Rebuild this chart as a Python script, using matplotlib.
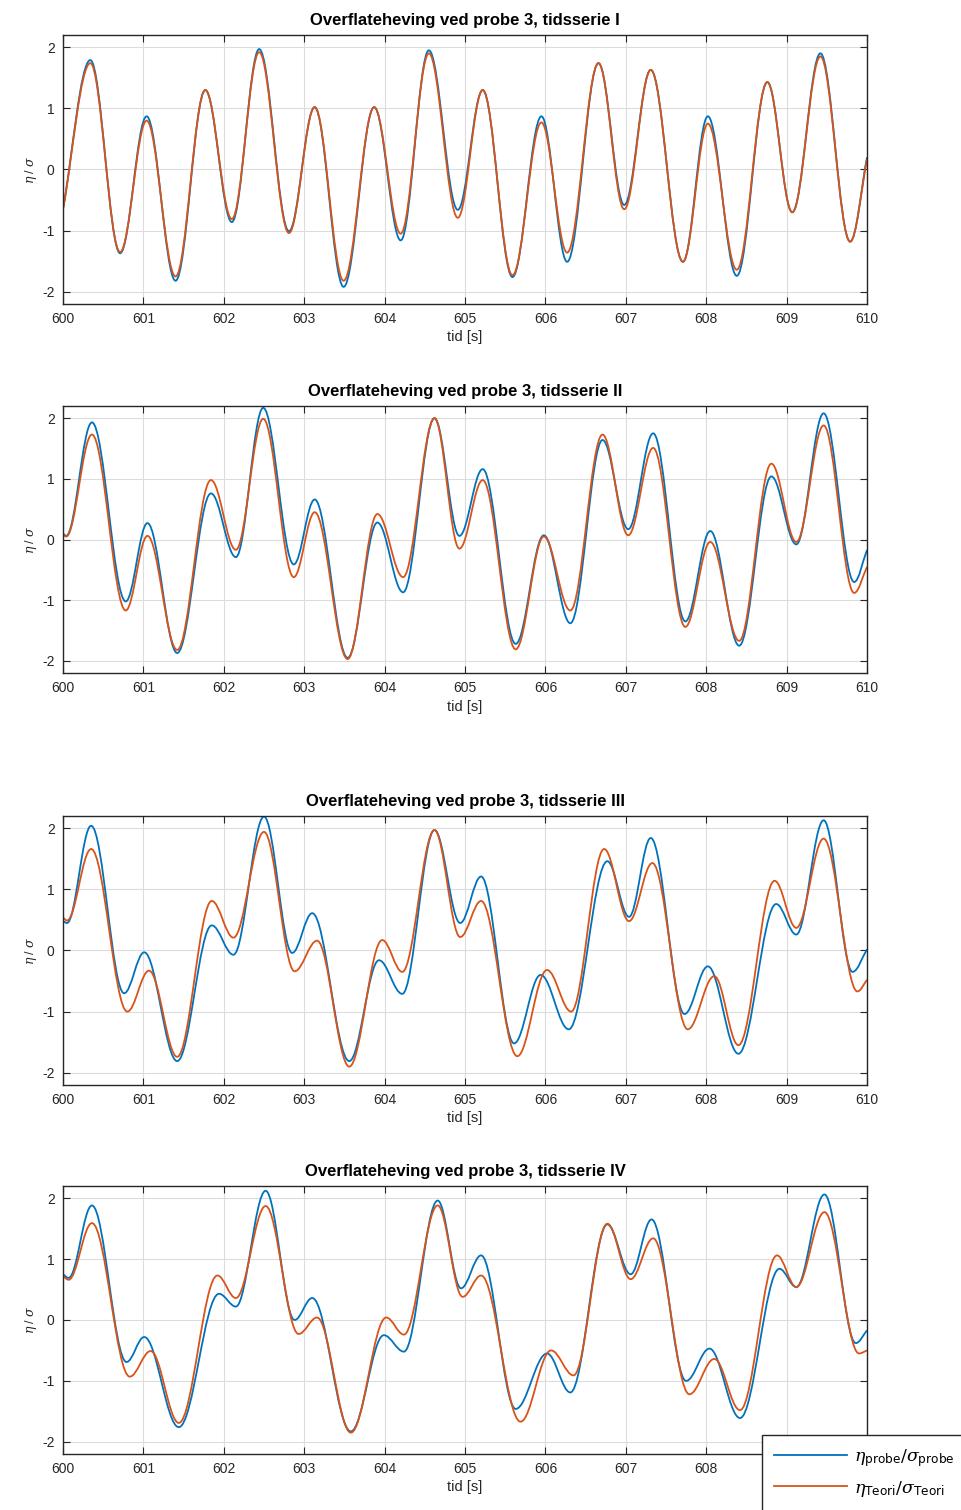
import matplotlib
matplotlib.use("Agg")
import matplotlib.pyplot as plt
from matplotlib.path import Path
from matplotlib.patches import PathPatch
from matplotlib.lines import Line2D

plt.rcParams["font.family"] = ["Liberation Sans", "DejaVu Sans"]
plt.rcParams["mathtext.fontset"] = "dejavuserif"
plt.rcParams["axes.unicode_minus"] = False

# extrema (time, value), plus the end points
t_probe_1 = [600.00, 600.34, 600.71, 601.04, 601.40, 601.77, 602.10, 602.44, 602.81, 603.13,
             603.49, 603.87, 604.20, 604.55, 604.91, 605.22, 605.59, 605.95, 606.27, 606.66,
             606.98, 607.31, 607.71, 608.02, 608.38, 608.76, 609.07, 609.42, 609.79, 610.00]
y_probe_1 = [-0.65, 1.79, -1.37, 0.87, -1.82, 1.30, -0.86, 1.97, -1.01, 1.02,
             -1.92, 1.02, -1.16, 1.95, -0.66, 1.30, -1.76, 0.87, -1.51, 1.74,
             -0.58, 1.63, -1.51, 0.87, -1.74, 1.43, -0.70, 1.90, -1.18, 0.20]
t_teori_1 = t_probe_1
y_teori_1 = [-0.65, 1.74, -1.35, 0.80, -1.75, 1.30, -0.81, 1.92, -1.04, 1.02,
             -1.82, 1.02, -1.05, 1.90, -0.79, 1.30, -1.73, 0.77, -1.36, 1.74,
             -0.65, 1.63, -1.51, 0.75, -1.64, 1.43, -0.70, 1.85, -1.18, 0.17]

t_probe_2 = [600.00, 600.04, 600.36, 600.78, 601.05, 601.42, 601.84, 602.15, 602.49, 602.87,
             603.13, 603.54, 603.91, 604.23, 604.62, 604.93, 605.22, 605.63, 605.98, 606.31,
             606.71, 607.03, 607.34, 607.74, 608.05, 608.41, 608.81, 609.12, 609.46, 609.84, 610.00]
y_probe_2 = [0.10, 0.06, 1.93, -1.02, 0.27, -1.87, 0.76, -0.29, 2.17, -0.41,
             0.66, -1.95, 0.28, -0.87, 2.00, 0.06, 1.16, -1.72, 0.07, -1.38,
             1.64, 0.17, 1.75, -1.35, 0.14, -1.75, 1.04, -0.08, 2.08, -0.70, -0.17]
t_teori_2 = t_probe_2
y_teori_2 = [0.08, 0.05, 1.73, -1.17, 0.06, -1.82, 0.98, -0.17, 1.99, -0.62,
             0.45, -1.97, 0.42, -0.62, 2.00, -0.15, 0.98, -1.81, 0.05, -1.17,
             1.73, 0.07, 1.51, -1.44, -0.04, -1.67, 1.25, -0.04, 1.88, -0.88, -0.45]

t_probe_3 = [600.00, 600.05, 600.35, 600.76, 601.01, 601.42, 601.85, 602.12, 602.50, 602.85,
             603.10, 603.56, 603.93, 604.22, 604.62, 604.94, 605.20, 605.61, 605.94, 606.29,
             606.77, 607.04, 607.31, 607.73, 608.02, 608.40, 608.87, 609.12, 609.46, 609.82, 610.00]
y_probe_3 = [0.48, 0.45, 2.04, -0.70, -0.03, -1.81, 0.41, -0.07, 2.19, -0.04,
             0.61, -1.81, -0.16, -0.71, 1.97, 0.45, 1.21, -1.52, -0.40, -1.29,
             1.46, 0.55, 1.84, -1.04, -0.26, -1.69, 0.76, 0.26, 2.13, -0.35, 0.02]
t_teori_3 = [600.00, 600.05, 600.35, 600.80, 601.07, 601.42, 601.85, 602.12, 602.50, 602.88,
             603.16, 603.56, 603.97, 604.22, 604.62, 604.94, 605.20, 605.65, 606.02, 606.32,
             606.73, 607.04, 607.33, 607.77, 608.10, 608.40, 608.85, 609.12, 609.46, 609.88, 610.00]
y_teori_3 = [0.54, 0.49, 1.66, -1.00, -0.33, -1.74, 0.81, 0.21, 1.94, -0.34,
             0.16, -1.90, 0.17, -0.35, 1.97, 0.22, 0.81, -1.73, -0.32, -1.00,
             1.66, 0.48, 1.43, -1.29, -0.42, -1.55, 1.14, 0.37, 1.83, -0.67, -0.48]

t_probe_4 = [600.00, 600.07, 600.36, 600.79, 601.01, 601.44, 601.94, 602.15, 602.52, 602.88,
             603.10, 603.58, 603.99, 604.24, 604.66, 604.95, 605.20, 605.63, 606.02, 606.31,
             606.77, 607.06, 607.32, 607.75, 608.04, 608.42, 608.91, 609.12, 609.47, 609.86, 610.00]
y_probe_4 = [0.75, 0.69, 1.88, -0.69, -0.28, -1.76, 0.43, 0.22, 2.12, 0.00,
             0.36, -1.83, -0.25, -0.52, 1.96, 0.52, 1.06, -1.46, -0.55, -1.19,
             1.57, 0.75, 1.65, -1.00, -0.47, -1.61, 0.84, 0.54, 2.06, -0.38, -0.17]
t_teori_4 = [600.00, 600.07, 600.36, 600.83, 601.09, 601.44, 601.92, 602.15, 602.52, 602.93,
             603.16, 603.58, 604.02, 604.24, 604.66, 604.97, 605.20, 605.69, 606.07, 606.35,
             606.77, 607.06, 607.34, 607.79, 608.10, 608.42, 608.88, 609.12, 609.47, 609.90, 610.00]
y_teori_4 = [0.72, 0.66, 1.59, -0.93, -0.51, -1.69, 0.73, 0.36, 1.87, -0.23,
             0.04, -1.85, 0.04, -0.24, 1.88, 0.38, 0.73, -1.67, -0.50, -0.91,
             1.58, 0.67, 1.34, -1.22, -0.64, -1.48, 1.06, 0.54, 1.77, -0.55, -0.50]

series_names = ["I", "II", "III", "IV"]
probe = [(t_probe_1, y_probe_1), (t_probe_2, y_probe_2), (t_probe_3, y_probe_3), (t_probe_4, y_probe_4)]
teori = [(t_teori_1, y_teori_1), (t_teori_2, y_teori_2), (t_teori_3, y_teori_3), (t_teori_4, y_teori_4)]
x_ticks = list(range(600, 611))
y_ticks = [-2, -1, 0, 1, 2]

blue = "#0072BD"
orange = "#D95319"
dark = "#262626"


def wave_path(t, y, k=0.364):
    # smooth curve through the extrema, flat tangent at each extremum
    verts = [(t[0], y[0])]
    codes = [Path.MOVETO]
    n = len(t)
    for i in range(n - 1):
        d = t[i + 1] - t[i]
        if i == 0:
            c1 = (t[i] + d / 3, y[i] + (y[i + 1] - y[i]) / 3)
        else:
            c1 = (t[i] + k * d, y[i])
        if i == n - 2:
            c2 = (t[i + 1] - d / 3, y[i + 1] - (y[i + 1] - y[i]) / 3)
        else:
            c2 = (t[i + 1] - k * d, y[i + 1])
        verts += [c1, c2, (t[i + 1], y[i + 1])]
        codes += [Path.CURVE4] * 3
    return Path(verts, codes)


fig = plt.figure(figsize=(9.62, 15.1), dpi=100)
boxes = [(0.0655, 0.7987, 0.8358, 0.1781),
         (0.0655, 0.5543, 0.8358, 0.1768),
         (0.0655, 0.2815, 0.8358, 0.1781),
         (0.0655, 0.0371, 0.8358, 0.1775)]

for i in range(4):
    ax = fig.add_axes(boxes[i])
    for (t, y), c in [(probe[i], blue), (teori[i], orange)]:
        ax.add_patch(PathPatch(wave_path(t, y), fill=False, edgecolor=c, lw=1.3))
    ax.set_xlim(600, 610)
    ax.set_ylim(-2.2, 2.2)
    ax.set_xticks(x_ticks)
    ax.set_yticks(y_ticks)
    ax.grid(True, color="#dcdcdc", lw=0.8)
    ax.set_axisbelow(True)
    ax.tick_params(direction="in", top=True, right=True, length=5, width=0.8,
                   colors=dark, labelsize=10, pad=6)
    for s in ax.spines.values():
        s.set_color(dark)
        s.set_linewidth(1.0)
    ax.set_title("Overflateheving ved probe 3, tidsserie " + series_names[i],
                 fontsize=12, fontweight="bold", pad=7)
    ax.set_xlabel("tid [s]", fontsize=10.5, color=dark, labelpad=3)
    ax.set_ylabel(r"$\eta$ / $\sigma$", fontsize=9, color=dark, labelpad=2)

handles = [Line2D([], [], color=blue, lw=1.3), Line2D([], [], color=orange, lw=1.3)]
labels = [r"$\eta_{\mathsf{probe}}/\sigma_{\mathsf{probe}}$",
          r"$\eta_{\mathsf{Teori}}/\sigma_{\mathsf{Teori}}$"]
leg = fig.legend(handles, labels, loc="upper left", bbox_to_anchor=(0.792, 0.0497),
                 fontsize=12.5, handlelength=4.2, handletextpad=0.4, fancybox=False,
                 framealpha=1, edgecolor=dark, borderaxespad=0, labelspacing=0.55,
                 borderpad=0.7)
leg.get_frame().set_linewidth(1.0)

plt.savefig("out.png", dpi=100)
